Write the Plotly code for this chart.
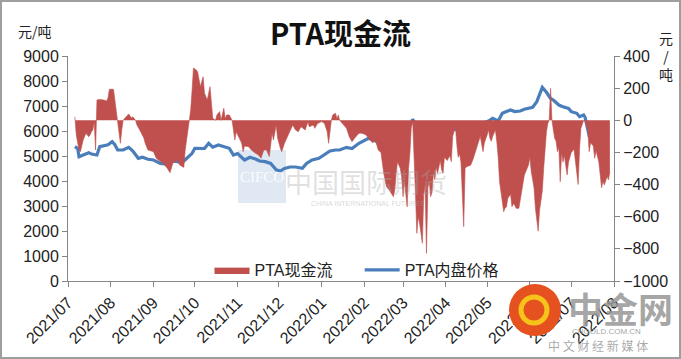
import pandas as pd
import plotly.graph_objects as go

# ---------------- data ----------------
start_date = "2021-07-01"

# PTA内盘价格 (元/吨), days since 2021-07-01
price_days = [5, 7, 8, 11, 15, 17, 21, 23, 26, 29,
              32, 34, 36, 40, 44, 47, 51, 54, 58, 62,
              67, 71, 75, 79, 83, 86, 90, 92, 96, 99,
              102, 105, 109, 113, 117, 120, 123, 128, 132, 136,
              139, 143, 147, 151, 154, 157, 161, 165, 170, 173,
              177, 182, 186, 190, 194, 197, 202, 206, 211, 214,
              218, 221, 225, 228, 232, 236, 240, 243, 247, 250,
              253, 257, 260, 263, 265, 268, 271, 275, 279, 284,
              289, 293, 298, 301, 305, 308, 312, 315, 318, 321,
              324, 328, 331, 335, 337, 340, 342, 344, 347, 350,
              352, 356, 359, 363, 365, 369, 371, 374, 375, 377,
              378, 381, 384, 388, 390, 392]
price_values = [5373, 5300, 4973, 5040, 5133, 5080, 5040, 5373, 5400, 5450,
                5573, 5450, 5240, 5240, 5347, 5200, 4907, 4950, 4870, 4840,
                4707, 4680, 4800, 4773, 4750, 4900, 5107, 5307, 5307, 5300,
                5507, 5350, 5440, 5380, 5307, 5040, 5100, 4840, 4950, 4880,
                4800, 4773, 4700, 4450, 4400, 4500, 4560, 4560, 4507, 4700,
                4840, 4907, 5040, 5200, 5240, 5240, 5347, 5300, 5507, 5600,
                5707, 5650, 5550, 5400, 5300, 5400, 5640, 5800, 6100, 6467,
                6200, 5907, 5707, 5900, 6200, 6107, 6050, 6107, 6050, 6107,
                6173, 6200, 6173, 6307, 6400, 6507, 6400, 6707, 6780, 6840,
                6780, 6800, 6870, 6907, 6950, 7173, 7500, 7747, 7550, 7300,
                7240, 7040, 6973, 6900, 6773, 6707, 6573, 6640, 6550, 6107,
                5800, 5707, 5720, 5760, 5907, 6100]

# PTA现金流 (元/吨), days since 2021-07-01
cash_days = [5, 6, 8, 9, 11, 13, 15, 16, 17, 18, 19, 20, 21, 23, 26, 28, 29, 30, 33, 34,
             35, 36, 37, 38, 39, 40, 42, 43, 44, 46, 47, 49, 50, 52, 55, 56, 58, 62, 64, 67,
             69, 72, 74, 76, 79, 81, 84, 85, 87, 88, 89, 90, 91, 93, 94, 96, 98, 99, 101, 103,
             104, 105, 107, 108, 110, 111, 113, 114, 115, 117, 119, 120, 121, 122, 123, 126, 127, 128, 131, 133,
             136, 138, 140, 142, 144, 146, 148, 149, 151, 152, 154, 155, 157, 159, 161, 163, 165, 167, 169, 172,
             174, 175, 178, 179, 181, 184, 186, 188, 189, 190, 191, 192, 194, 195, 196, 197, 199, 202, 204, 206,
             208, 211, 213, 216, 219, 221, 223, 225, 227, 229, 231, 233, 236, 237, 238, 239, 241, 242, 243, 244,
             246, 247, 248, 249, 250, 251, 252, 253, 254, 255, 256, 257, 258, 259, 260, 261, 262, 263, 264, 265,
             266, 267, 268, 270, 271, 272, 273, 275, 277, 278, 279, 281, 282, 283, 284, 285, 287, 288, 289, 292,
             294, 296, 299, 301, 302, 304, 305, 306, 307, 308, 310, 311, 312, 313, 315, 316, 317, 318, 319, 321,
             322, 323, 324, 325, 327, 329, 331, 334, 335, 336, 338, 339, 340, 341, 342, 344, 345, 346, 347, 348,
             349, 350, 351, 352, 353, 354, 355, 356, 357, 358, 359, 360, 362, 363, 364, 365, 367, 368, 369, 370,
             371, 372, 374, 375, 377, 378, 379, 381, 382, 383, 385, 386, 387, 388, 389, 391, 392, 393]
cash_values = [22, -91, -185, -195, -123, -81, -102, -91, -71, -60, -10, -185, 126, 130, 126, 120, 139, 193, 193, 126,
               64, 0, -91, -143, -60, 0, 20, 33, 39, 14, 22, 0, -29, -60, -110, -143, -185, -195, -236, -257,
               -266, -299, -326, -268, -247, -278, -293, -185, -60, 0, 64, 189, 325, 313, 302, 209, 271, 168, 126, 209,
               126, 12, 0, 33, 54, 0, 75, 10, 33, 33, 0, -60, -123, -71, -90, -143, -195, -160, -164, -185,
               -205, -215, -236, -185, -185, -226, -81, -123, -29, -110, -174, -195, -143, -102, -60, -29, -60, -71, -40, -60,
               -10, -40, -29, -50, -20, -8, -20, -71, -143, -60, 0, 33, 44, 10, 33, 0, -20, -50, -102, -133,
               -110, -81, -80, -90, -123, -140, -125, -185, -200, -330, -413, -434, -475, -434, -330, -258, -300, -350, -475, -380,
               -538, -300, -200, -40, -10, -200, -450, -703, -600, -640, -724, -765, -470, -400, -828, -420, -380, -475, -450, -330,
               -370, -290, -330, -250, -309, -330, -230, -250, -220, -258, -100, -40, -150, -230, -210, -260, -662, -300, -289, -280,
               -237, -185, -100, -195, -140, -91, -60, -112, -130, -100, -60, -133, -230, -382, -500, -569, -545, -540, -485, -460,
               -538, -520, -527, -548, -548, -444, -340, -278, -230, -320, -420, -548, -610, -690, -560, -440, -300, -150, -71, -20,
               0, 199, 0, -60, -112, -130, -195, -170, -382, -200, -260, -220, -340, -260, -236, -200, -180, -260, -340, -400,
               -180, -50, 0, -5, -60, -195, -140, -160, -236, -190, -260, -340, -420, -380, -402, -350, -370, -320]

left_range = [0, 9000]
right_range = [-1000, 400]
x_range = ["2021-07-01", "2022-08-01"]

base = pd.Timestamp(start_date)
price_dates = [base + pd.Timedelta(days=d) for d in price_days]
cash_dates = [base + pd.Timedelta(days=d) for d in cash_days]

RED = "#C0504D"
BLUE = "#4A7EBB"
AXIS = "#868686"
FONT = "Liberation Sans, Noto Sans CJK SC, sans-serif"
CJK = "Noto Sans CJK SC, sans-serif"

W, H = 681, 359
L, R, T, B = 68, 67, 56, 78
PW, PH = W - L - R, H - T - B


def px(x):
    return (x - L) / PW


def py(y):
    return (H - B - y) / PH


fig = go.Figure()
fig.add_trace(go.Scatter(
    x=cash_dates, y=cash_values, name="PTA现金流\u00a0\u00a0\u00a0\u00a0\u00a0", yaxis="y2",
    mode="lines", line=dict(color=RED, width=0.6), fill="tozeroy",
    fillcolor=RED,
))
fig.add_trace(go.Scatter(
    x=price_dates, y=price_values, name="PTA内盘价格", yaxis="y",
    mode="lines", line=dict(color=BLUE, width=3.2),
))

shapes = [
    # CIFCO watermark box
    dict(type="rect", xref="paper", yref="paper", x0=px(238), x1=px(286), y0=py(203), y1=py(150),
         fillcolor="rgba(196,214,234,0.55)", line=dict(width=0), layer="below"),
    # 中金网 logo circle
    dict(type="circle", xref="paper", yref="paper", x0=px(509), x1=px(561), y0=py(336), y1=py(284),
         fillcolor="#E5521F", line=dict(width=0), layer="above"),
    dict(type="circle", xref="paper", yref="paper", x0=px(521), x1=px(547), y0=py(323), y1=py(297),
         fillcolor="rgba(0,0,0,0)", line=dict(width=5, color="#F6C31A"), layer="above"),
    # outer frame
    dict(type="rect", xref="paper", yref="paper", x0=px(1), x1=px(W - 1), y0=py(H - 1), y1=py(1),
         fillcolor="rgba(0,0,0,0)", line=dict(width=2, color="#9E9E9E"), layer="above"),
]


def note(text, x, y, size, color="#222", family=CJK):
    return dict(text=text, x=px(x), y=py(y), xref="paper", yref="paper", showarrow=False,
                xanchor="center", yanchor="middle", align="center",
                font=dict(family=family, size=size, color=color))


annotations = [
    note("元/吨", 35, 31, 14),
    note("元<br>/<br>吨", 666, 56, 14),
    note("CIFCO", 262, 177, 15, "rgba(255,255,255,0.9)", "Liberation Serif, serif"),
    note("中国国际期货", 366, 181, 27, "rgba(165,165,165,0.35)"),
    note("CHINA INTERNATIONAL FUTURES", 368, 203, 7, "rgba(165,165,165,0.45)", FONT),
    note("<b>中金网</b>", 620, 307, 35, "rgba(150,150,150,0.85)"),
    note("CNGOLD.COM.CN", 606, 331, 8, "rgba(150,150,150,0.9)", FONT),
    note("中 文 财 经 新 媒 体", 598, 346, 12, "rgba(160,160,160,0.9)"),
]

fig.update_layout(
    width=W, height=H,
    margin=dict(l=L, r=R, t=T, b=B, autoexpand=False),
    paper_bgcolor="white", plot_bgcolor="white",
    font=dict(family=FONT, size=16, color="#222"),
    title=dict(text="<b>PTA现金流</b>", x=0.5, xanchor="center", y=1 - 35 / H, yanchor="middle",
               font=dict(family=CJK, size=29, color="#111")),
    showlegend=True,
    legend=dict(orientation="h", x=px(357), y=py(270), xanchor="center", yanchor="middle",
                bgcolor="rgba(0,0,0,0)", font=dict(family=FONT, size=16, color="#222"),
                itemwidth=35, tracegroupgap=0),
    xaxis=dict(type="date", range=x_range, dtick="M1", tick0="2021-07-01", tickformat="%Y/%m",
               tickangle=-45, showgrid=False, zeroline=False, showline=True, linecolor=AXIS,
               ticks="outside", ticklen=5, tickcolor=AXIS, tickfont=dict(size=16), automargin=False),
    yaxis=dict(range=left_range, dtick=1000, showgrid=False, zeroline=False, showline=True,
               linecolor=AXIS, ticks="outside", ticklen=5, tickcolor=AXIS, tickfont=dict(size=16),
               automargin=False),
    yaxis2=dict(range=right_range, dtick=200, overlaying="y", side="right", showgrid=False,
                zeroline=False, showline=True, linecolor=AXIS, ticks="outside", ticklen=5,
                tickcolor=AXIS, tickfont=dict(size=16), automargin=False),
    shapes=shapes,
    annotations=annotations,
)

fig.write_html("out.html", config={"displayModeBar": False},
               post_script="document.body.style.margin='0';document.body.style.padding='0';")
